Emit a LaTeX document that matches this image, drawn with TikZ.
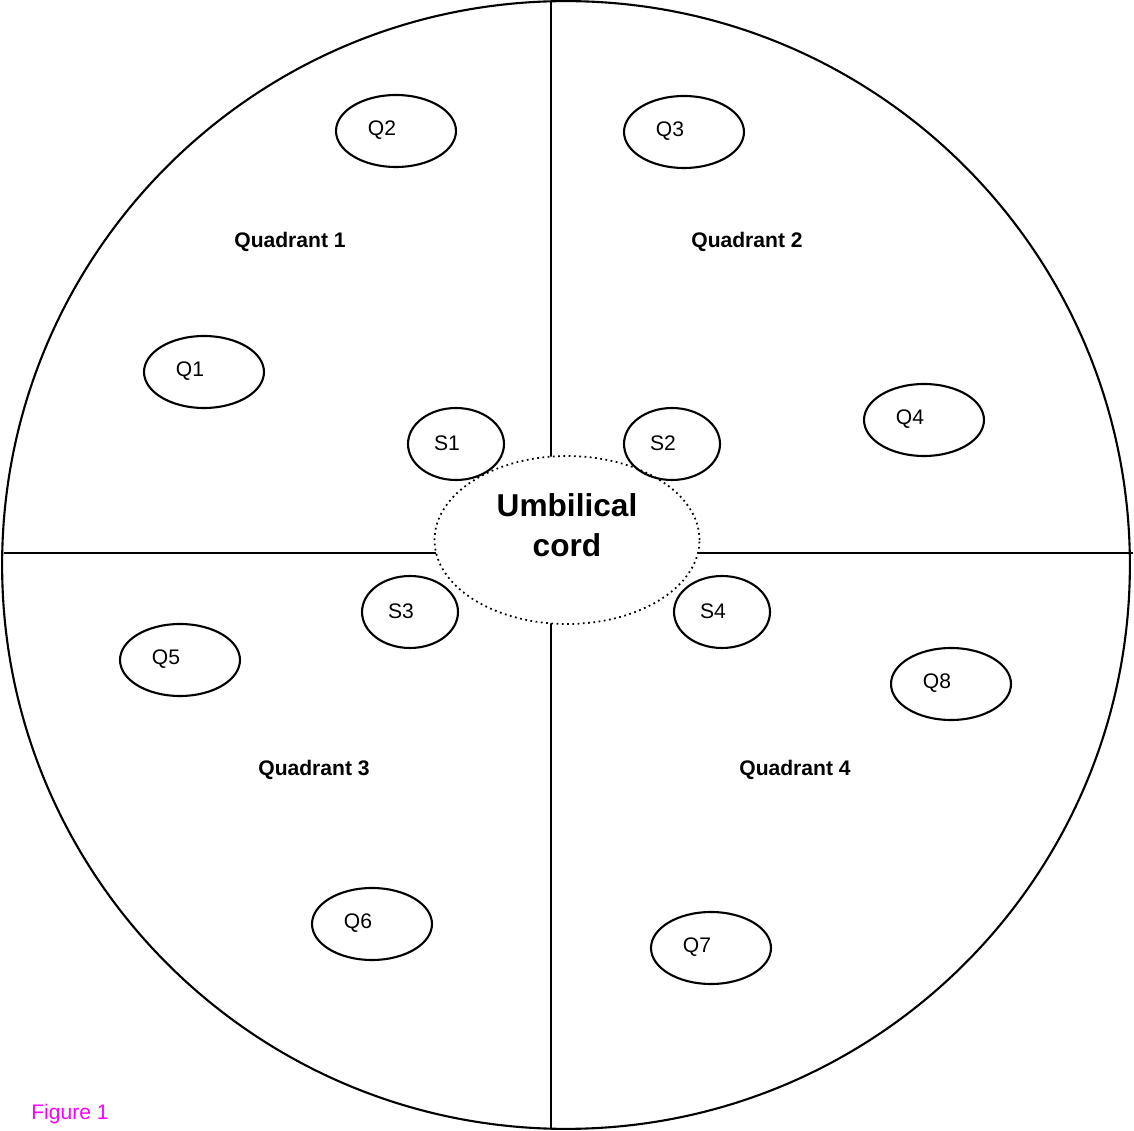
\documentclass[tikz,border=0pt]{standalone}
\usepackage{fontspec}
\setmainfont{Liberation Sans}
\usetikzlibrary{shapes.geometric, positioning}
\definecolor{figpink}{RGB}{255,0,255}

\begin{document}
\begin{tikzpicture}[
        x=0.02cm, y=-0.02cm,
        wall/.style={draw=black, line width=1.2pt},
        qcell/.style={ellipse, draw=black, line width=1.2pt, minimum width=2.4cm, minimum height=1.44cm, inner sep=0pt},
        scell/.style={ellipse, draw=black, line width=1.2pt, minimum width=1.92cm, minimum height=1.44cm, inner sep=0pt},
        cord/.style={ellipse, draw=black, dotted, line width=1pt, fill=white, minimum width=5.3cm, minimum height=3.36cm, inner sep=0pt},
        qname/.style={font=\bfseries\fontsize{12}{14}\selectfont},
        cname/.style={font=\fontsize{12}{14}\selectfont}
    ]
        \useasboundingbox (0,0) rectangle (1134,1131);
        \draw[wall] (566,565) circle [radius=11.28cm];
        \draw[wall] (551,2) -- (551,1129);
        \draw[wall] (4,553) -- (1133,553);
        \node[cord, label={[yshift=0.3cm, align=center, font=\bfseries\fontsize{18}{23}\selectfont]center:Umbilical\\cord}] (umb) at (567,540) {};
        % outer cells
        \node[qcell, label={[xshift=-0.28cm, yshift=0.02cm, cname]center:Q1}] (q1) at (204,372) {};
        \node[qcell, label={[xshift=-0.28cm, yshift=0.02cm, cname]center:Q2}] (q2) at (396,131) {};
        \node[qcell, label={[xshift=-0.28cm, yshift=0.02cm, cname]center:Q3}] (q3) at (684,132) {};
        \node[qcell, label={[xshift=-0.28cm, yshift=0.02cm, cname]center:Q4}] (q4) at (924,420) {};
        \node[qcell, label={[xshift=-0.28cm, yshift=0.02cm, cname]center:Q5}] (q5) at (180,660) {};
        \node[qcell, label={[xshift=-0.28cm, yshift=0.02cm, cname]center:Q6}] (q6) at (372,924) {};
        \node[qcell, label={[xshift=-0.28cm, yshift=0.02cm, cname]center:Q7}] (q7) at (711,948) {};
        \node[qcell, label={[xshift=-0.28cm, yshift=0.02cm, cname]center:Q8}] (q8) at (951,684) {};
        % inner cells
        \node[scell, label={[xshift=-0.18cm, yshift=0.02cm, cname]center:S1}] (s1) at (456,444) {};
        \node[scell, label={[xshift=-0.18cm, yshift=0.02cm, cname]center:S2}] (s2) at (672,444) {};
        \node[scell, label={[xshift=-0.18cm, yshift=0.02cm, cname]center:S3}] (s3) at (410,612) {};
        \node[scell, label={[xshift=-0.18cm, yshift=0.02cm, cname]center:S4}] (s4) at (722,612) {};
        % quadrant names
        \node[qname] (quad1) at (290,242) {Quadrant 1};
        \node[qname] (quad2) at (747,242) {Quadrant 2};
        \node[qname] (quad3) at (314,770) {Quadrant 3};
        \node[qname] (quad4) at (795,770) {Quadrant 4};
        \node[cname, text=figpink] (fig) at (70,1114) {Figure 1};
    \end{tikzpicture}
\end{document}
